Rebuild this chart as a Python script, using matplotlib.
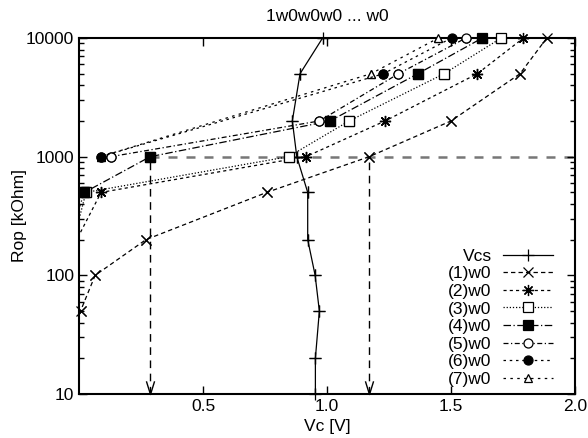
import numpy as np
import matplotlib.pyplot as plt
from matplotlib.path import Path

plt.rcParams['font.family'] = ['Liberation Sans', 'DejaVu Sans']
plt.rcParams['font.size'] = 12.5

# Vcs reference curve
vcs_rop = [10, 20, 50, 100, 200, 500, 1000, 2000, 5000, 10000]
vcs_vc = [0.953, 0.953, 0.969, 0.952, 0.922, 0.922, 0.878, 0.860, 0.891, 0.982]

# (n)w0 curves, Rop [kOhm] vs Vc [V]
w1_rop = [20, 50, 100, 200, 500, 1000, 2000, 5000, 10000]
w1_vc = [-0.03, 0.006, 0.065, 0.27, 0.757, 1.17, 1.50, 1.778, 1.886]
w2_rop = [150, 500, 1000, 2000, 5000, 10000]
w2_vc = [-0.04, 0.089, 0.915, 1.234, 1.606, 1.792]
w3_rop = [140, 500, 1000, 2000, 5000, 10000]
w3_vc = [-0.04, 0.028, 0.845, 1.089, 1.472, 1.702]
w4_rop = [210, 500, 1000, 2000, 5000, 10000]
w4_vc = [-0.04, 0.022, 0.287, 1.012, 1.366, 1.626]
w5_rop = [1000, 2000, 5000, 10000]
w5_vc = [0.128, 0.969, 1.288, 1.560]
w6_rop = [1000, 5000, 10000]
w6_vc = [0.087, 1.227, 1.502]
w7_rop = [1000, 5000, 10000]
w7_vc = [0.087, 1.177, 1.449]

target_rop = 1000
arrow_vc = [w4_vc[2], w1_vc[5]]

xticks = [0.5, 1.0, 1.5, 2.0]
xticklabels = ['0.5', '1.0', '1.5', '2.0']
yticks = [10, 100, 1000, 10000]
yticklabels = ['10', '100', '1000', '10000']

star = (8, 2, 0)
vhead = Path([(-0.31, 1), (0, 0), (0.31, 1)],
             [Path.MOVETO, Path.LINETO, Path.LINETO])

series = [
    (vcs_vc, vcs_rop, 'Vcs', '-', '+', 'black', 8, 3),
    (w1_vc, w1_rop, '(1)w0', (0, (3.5, 2.5)), 'x', 'black', 7, 3),
    (w2_vc, w2_rop, '(2)w0', (0, (2.5, 2.5)), star, 'black', 8, 3),
    (w3_vc, w3_rop, '(3)w0', (0, (1, 1.5)), 's', 'white', 6.5, 3),
    (w4_vc, w4_rop, '(4)w0', (0, (6, 2, 1, 2)), 's', 'black', 6.5, 3),
    (w5_vc, w5_rop, '(5)w0', (0, (4, 2, 1, 2)), 'o', 'white', 6.5, 3),
    (w6_vc, w6_rop, '(6)w0', (0, (2, 3)), 'o', 'black', 6.5, 4),
    (w7_vc, w7_rop, '(7)w0', (0, (2, 3.5)), '^', 'white', 6, 3),
]

fig = plt.figure(figsize=(5.88, 4.38), dpi=100)
ax = fig.add_axes([0.1344, 0.1005, 0.8436, 0.8127])

for vc, rop, label, ls, mk, mfc, ms, z in series:
    ax.plot(vc, rop, color='black', lw=0.9, linestyle=ls, marker=mk,
            mfc=mfc, mec='black', ms=ms, mew=0.9, label=label, zorder=z)
    # markers on the frame are drawn whole, like gnuplot does
    vc_in = [v for v in vc if 0 <= v <= 2]
    rop_in = [r for v, r in zip(vc, rop) if 0 <= v <= 2]
    ax.plot(vc_in, rop_in, linestyle='none', marker=mk, mfc=mfc,
            mec='black', ms=ms, mew=0.9, clip_on=False, zorder=z)

ax.hlines(target_rop, arrow_vc[0], 2.0, colors='#777777', linewidth=1.8,
          linestyles=(0, (3.6, 3.6)), zorder=1)
ax.vlines(arrow_vc, 10, target_rop, colors='black', linewidth=1,
          linestyles=(0, (5.5, 4)), zorder=1)
ax.plot(arrow_vc, [10, 10], linestyle='none', marker=vhead, ms=19,
        mfc='none', mec='black', mew=1, clip_on=False, zorder=2)

ax.set_yscale('log')
ax.set_xlim(0, 2.0)
ax.set_ylim(10, 10000)
ax.set_xticks(xticks, labels=xticklabels)
ax.set_yticks(yticks, labels=yticklabels)
ax.tick_params(which='both', direction='in', top=True, right=True, width=1)
ax.tick_params(which='major', length=6)
ax.tick_params(which='minor', length=3.5)
ax.tick_params(axis='x', which='minor', bottom=False, top=False)
for s in ax.spines.values():
    s.set_linewidth(1.5)

ax.set_title('1w0w0w0 ... w0', fontsize=12.5, pad=12)
ax.set_xlabel('Vc [V]', labelpad=4)
ax.set_ylabel('Rop [kOhm]')
ax.yaxis.set_label_coords(-0.105, 0.5)

ax.legend(loc='lower right', bbox_to_anchor=(0.956, 0.02), frameon=False,
          markerfirst=False, numpoints=1, handlelength=2.9,
          handletextpad=0.65, labelspacing=0.14, borderaxespad=0,
          borderpad=0)

fig.savefig('out.png', dpi=100)
